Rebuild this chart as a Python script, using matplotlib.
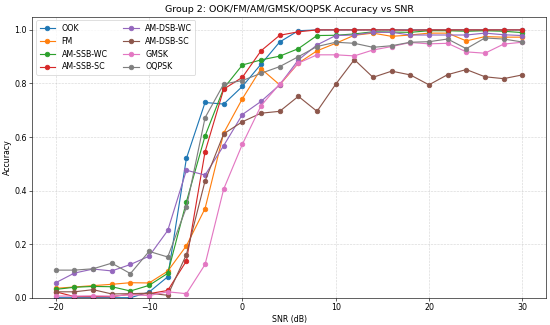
import matplotlib
matplotlib.use("Agg")
import matplotlib.pyplot as plt
import numpy as np

# SNR axis (dB)
snr = np.arange(-20, 31, 2)

# Accuracy per modulation
ook = [0.0, 0.0, 0.0, 0.0, 0.0, 0.021, 0.078, 0.52, 0.729, 0.723, 0.789, 0.872, 0.955,
       0.997, 1.0, 1.0, 1.0, 1.0, 1.0, 1.0, 1.0, 1.0, 1.0, 1.0, 1.0, 1.0]
fm = [0.035, 0.04, 0.045, 0.05, 0.056, 0.055, 0.099, 0.194, 0.333, 0.615, 0.743, 0.855, 0.795,
      0.876, 0.922, 0.95, 0.98, 0.988, 0.976, 0.981, 0.988, 0.988, 0.959, 0.975, 0.973, 0.973]
am_ssb_wc = [0.031, 0.039, 0.042, 0.041, 0.025, 0.046, 0.091, 0.358, 0.604, 0.782, 0.869, 0.888, 0.902,
             0.93, 0.979, 0.98, 0.985, 0.993, 0.992, 0.991, 0.997, 0.997, 0.995, 0.997, 0.995, 0.99]
am_ssb_sc = [0.022, 0.004, 0.004, 0.004, 0.013, 0.015, 0.027, 0.137, 0.545, 0.779, 0.823, 0.922, 0.98,
             0.993, 1.0, 1.0, 1.0, 1.0, 1.0, 0.999, 1.0, 1.0, 1.0, 1.0, 1.0, 1.0]
am_dsb_wc = [0.056, 0.092, 0.107, 0.10, 0.124, 0.155, 0.251, 0.476, 0.458, 0.568, 0.684, 0.733, 0.795,
             0.888, 0.944, 0.979, 0.981, 0.991, 0.991, 0.981, 0.981, 0.981, 0.981, 0.988, 0.982, 0.979]
am_dsb_sc = [0.022, 0.022, 0.03, 0.014, 0.015, 0.017, 0.009, 0.161, 0.436, 0.612, 0.657, 0.689, 0.696,
             0.752, 0.696, 0.797, 0.889, 0.823, 0.846, 0.832, 0.795, 0.833, 0.852, 0.825, 0.818, 0.832]
gmsk = [0.006, 0.006, 0.007, 0.006, 0.011, 0.008, 0.022, 0.015, 0.124, 0.406, 0.573, 0.717, 0.798,
        0.876, 0.907, 0.907, 0.903, 0.925, 0.938, 0.953, 0.948, 0.95, 0.918, 0.913, 0.947, 0.954]
oqpsk = [0.103, 0.103, 0.108, 0.129, 0.09, 0.173, 0.152, 0.337, 0.672, 0.798, 0.811, 0.838, 0.863,
         0.90, 0.938, 0.954, 0.95, 0.935, 0.941, 0.954, 0.956, 0.966, 0.93, 0.97, 0.966, 0.955]

labels = ["OOK", "FM", "AM-SSB-WC", "AM-SSB-SC", "AM-DSB-WC", "AM-DSB-SC", "GMSK", "OQPSK"]
series = [ook, fm, am_ssb_wc, am_ssb_sc, am_dsb_wc, am_dsb_sc, gmsk, oqpsk]

plt.rcParams['font.size'] = 10.3

# drawn large, saved at low dpi -> 550x325
plt.figure(figsize=(10, 5.91), dpi=55)
for vals, lab in zip(series, labels):
    plt.plot(snr, vals, marker='o', label=lab)

plt.ylim(0, 1.05)
plt.xlabel('SNR (dB)')
plt.ylabel('Accuracy')
plt.title('Group 2: OOK/FM/AM/GMSK/OQPSK Accuracy vs SNR')
plt.grid(True, linestyle='--', alpha=0.5)
plt.legend(ncol=2, loc='upper left')
plt.subplots_adjust(left=0.059, right=0.992, bottom=0.084, top=0.949)
plt.savefig('out.png', dpi=55)
